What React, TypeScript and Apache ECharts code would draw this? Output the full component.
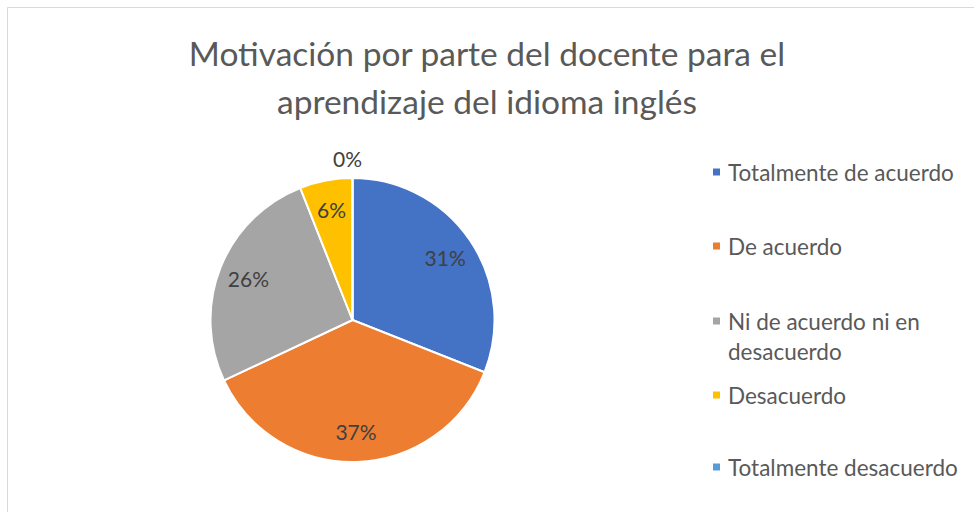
import React, { useEffect, useRef } from "react";
import * as echarts from "echarts";

const titleText = "Motivación por parte del docente para el\naprendizaje del idioma inglés";
const categories = [
  "Totalmente de acuerdo",
  "De acuerdo",
  "Ni de acuerdo ni en desacuerdo",
  "Desacuerdo",
  "Totalmente desacuerdo",
];
const percentValues = [31, 37, 26, 6, 0];
const sliceColors = ["#4472C4", "#ED7D31", "#A5A5A5", "#FFC000", "#5B9BD5"];
const legendLabels = [
  "Totalmente de acuerdo",
  "De acuerdo",
  "Ni de acuerdo ni en\ndesacuerdo",
  "Desacuerdo",
  "Totalmente desacuerdo",
];
const legendCenters = [172, 246, 321, 395, 467];

const FONT = "Lato";

export default function App() {
  const ref = useRef<HTMLDivElement>(null);
  useEffect(() => {
    document.body.style.margin = "0";
    const chart = echarts.init(ref.current!, null, { renderer: "svg" });
    const center = [352.5, 320];
    const R = 142;

    const legends = categories.map((name, i) => {
      const twoLine = legendLabels[i].includes("\n");
      const lh = 30;
      return {
        orient: "vertical",
        left: 711,
        top: legendCenters[i] - (twoLine ? 45 : 15),
        padding: 0,
        icon: "rect",
        itemWidth: 9,
        itemHeight: 9,
        selectedMode: false,
        data: [name],
        formatter: () => (twoLine ? "\n" + legendLabels[i] : legendLabels[i]),
        textStyle: {
          fontFamily: FONT,
          fontSize: 22.5,
          color: "#595959",
          lineHeight: lh,
          padding: [0, 0, 0, 2],
        },
      };
    });

    const data = categories.map((name, i) => ({
      name,
      value: percentValues[i],
      itemStyle: { color: sliceColors[i] },
    }));

    const labelData = categories.map((name, i) => ({
      name,
      value: percentValues[i],
      itemStyle: { color: "rgba(0,0,0,0)", borderWidth: 0 },
      label:
        percentValues[i] === 0
          ? { position: "outside" }
          : { position: "inside" },
      labelLine: { show: false, length: 20, length2: 0 },
    }));

    chart.setOption({
      animation: false,
      backgroundColor: "#ffffff",
      title: {
        text: titleText,
        left: "center",
        top: 24,
        textStyle: {
          fontFamily: FONT,
          fontSize: 33.5,
          fontWeight: "normal",
          color: "#595959",
          lineHeight: 48,
        },
      },
      legend: legends,
      graphic: [
        {
          type: "rect",
          silent: true,
          shape: { x: 7.5, y: 7.5, width: 1000, height: 600 },
          style: { fill: "none", stroke: "#d9d9d9", lineWidth: 1 },
        },
      ],
      series: [
        {
          type: "pie",
          center,
          radius: [0, R],
          startAngle: 90,
          clockwise: true,
          avoidLabelOverlap: false,
          label: { show: false },
          labelLine: { show: false },
          itemStyle: { borderColor: "#ffffff", borderWidth: 2 },
          emphasis: { disabled: true },
          data,
        },
        {
          type: "pie",
          center,
          radius: [76, R],
          startAngle: 90,
          clockwise: true,
          silent: true,
          avoidLabelOverlap: false,
          emphasis: { disabled: true },
          label: {
            show: true,
            formatter: "{c}%",
            fontFamily: FONT,
            fontSize: 21,
            color: "#404040",
          },
          labelLayout: (params: any) =>
            params.dataIndex === 4 ? { align: "center" } : {},
          data: labelData,
        },
      ],
    });
    return () => chart.dispose();
  }, []);
  return (
    <div
      ref={ref}
      style={{ position: "fixed", left: 0, top: 0, width: 974, height: 512 }}
    />
  );
}
